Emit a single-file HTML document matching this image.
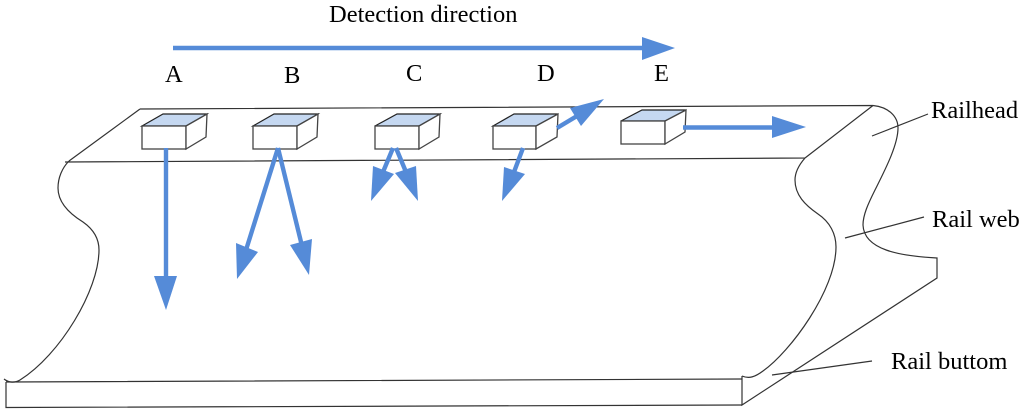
<!DOCTYPE html>
<html>
<head>
<meta charset="utf-8">
<style>
html,body{margin:0;padding:0;background:#fff;}
svg{display:block;filter:blur(0.35px);}
text{font-family:"Liberation Serif",serif;font-size:24.5px;fill:#000;}
.l{fill:none;stroke:#333;stroke-width:1.2;}
.b{stroke:#558bd8;stroke-width:4.4;fill:none;}
.h{fill:#558bd8;stroke:none;}
.f{fill:#fff;stroke:#444;stroke-width:1.3;}
.t{fill:#c5d8f1;stroke:#222;stroke-width:1.2;}
</style>
</head>
<body>
<svg width="1024" height="413" viewBox="0 0 1024 413" xmlns="http://www.w3.org/2000/svg">
<rect width="1024" height="413" fill="#fff"/>

<!-- rail outline -->
<path class="l" d="M140 109 L873 105.500 M140 109 L69 161 M65 162 L805 158 M805 158 L873 105.500"/>
<path class="l" d="M873 105.500 C888 107 898 116 898 128 C898 145 885 170 875 190 C868 204 863 215 863 225 C864 250 900 256 937 258 L937 278 L742 405 L742 376"/>
<path class="l" d="M805 158 C798 166 795 173 795 180 C795 195 805 205 818 214 C830 222 836 234 836 247 C836 290 790 352 763 371 C755 377 749 379 742 376"/>
<path class="l" d="M69 161 C62 168 58 178 58 188 C58 203 70 214 83 222 C93 229 99 238 99 250 C99 290 60 355 20 380 C15 383 9 383 4 379"/>
<path class="l" d="M6 382 L742 379 M6 382 L6 407.500 L742 405"/>

<!-- leaders -->
<path class="l" d="M872 136 L928 114 M845 238 L924 217 M772 375 L872 361"/>

<!-- sensor boxes -->
<g id="boxes">
  <path class="t" d="M142 126 L163 114 L207 114 L186 126 Z"/>
  <rect class="f" x="142" y="126" width="44" height="23"/>
  <path class="f" d="M186 126 L207 114 L206 137 L186 149 Z"/>

  <path class="t" d="M253 126 L274 114 L318 114 L297 126 Z"/>
  <rect class="f" x="253" y="126" width="44" height="23"/>
  <path class="f" d="M297 126 L318 114 L317 137 L297 149 Z"/>

  <path class="t" d="M375 126 L397 114 L440 114 L419 126 Z"/>
  <rect class="f" x="375" y="126" width="44" height="23"/>
  <path class="f" d="M419 126 L440 114 L439 137 L419 149 Z"/>

  <path class="t" d="M493 126 L514 114 L558 114 L536 126 Z"/>
  <rect class="f" x="493" y="126" width="43" height="23"/>
  <path class="f" d="M536 126 L558 114 L557 137 L536 149 Z"/>

  <path class="t" d="M621 121 L642 110 L686 110 L665 121 Z"/>
  <rect class="f" x="621" y="121" width="44" height="23"/>
  <path class="f" d="M665 121 L686 110 L685 132 L665 144 Z"/>
</g>

<!-- blue arrows -->
<path class="b" d="M173 48 L645 48"/>
<polygon class="h" points="642,37 675,48 642,60"/>

<path class="b" d="M166 148 L166 278"/>
<polygon class="h" points="154,276 177,276 166,310"/>

<path class="b" d="M278 148 L246 250"/>
<polygon class="h" points="236,243 258,252 237,279"/>
<path class="b" d="M278 148 L302 246"/>
<polygon class="h" points="290,245 312,239 309,275"/>

<path class="b" d="M393 148 L383 172"/>
<polygon class="h" points="373,166 394,174 371,201"/>
<path class="b" d="M396 148 L406 172"/>
<polygon class="h" points="395,173 416,166 418,201"/>

<path class="b" d="M523 148 L514 172"/>
<polygon class="h" points="504,167 525,174 502,201"/>
<path class="b" d="M557 128 L577 116"/>
<polygon class="h" points="570,108 581,126 604,99"/>

<path class="b" d="M683 127.500 L775 127.500"/>
<polygon class="h" points="772,116 806,127 772,138"/>

<!-- labels -->
<text x="329" y="22">Detection direction</text>
<text x="165" y="82">A</text>
<text x="284" y="83">B</text>
<text x="406" y="81">C</text>
<text x="537" y="81">D</text>
<text x="654" y="81">E</text>
<text x="931" y="118">Railhead</text>
<text x="932" y="227">Rail web</text>
<text x="891" y="369">Rail buttom</text>
</svg>
</body>
</html>
